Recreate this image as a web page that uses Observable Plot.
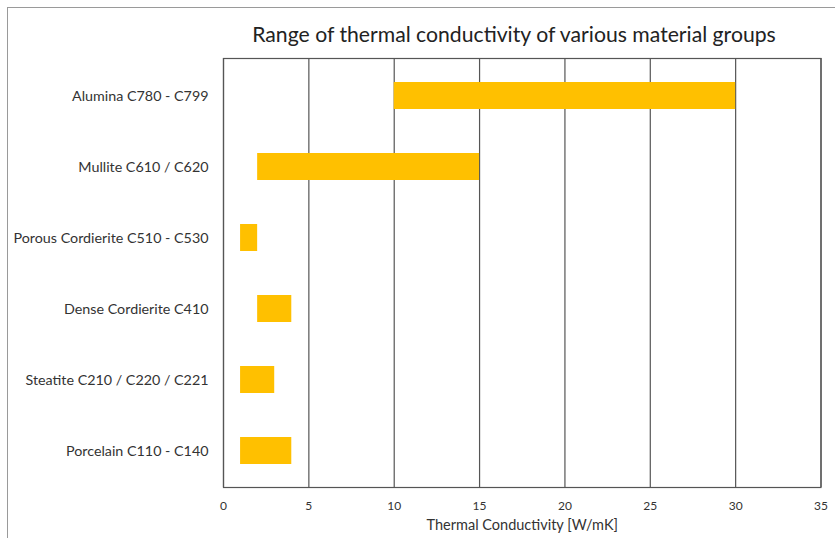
<!DOCTYPE html>
<html>
<head>
<meta charset="utf-8">
<script src="https://cdn.jsdelivr.net/npm/d3@7"></script>
<script src="https://cdn.jsdelivr.net/npm/@observablehq/plot@0.6"></script>
<style>
  html, body { margin: 0; padding: 0; background: #fff; }
  #wrap { position: relative; width: 835px; height: 538px; overflow: hidden; font-family: Lato, "Open Sans", sans-serif; }
  #frame { position: absolute; left: 7px; top: 7px; width: 900px; height: 600px; border-left: 1px solid #9a9a9a; border-top: 1px solid #9a9a9a; }
  #title { position: absolute; left: 214px; width: 600px; top: 21px; text-align: center; font-size: 21.2px; color: #222; }
  #chart { position: absolute; left: 0; top: 40px; }
</style>
</head>
<body>
<div id="wrap">
  <div id="frame"></div>
  <div id="title">Range of thermal conductivity of various material groups</div>
  <div id="chart"></div>
</div>
<script>
const materials = [
  "Alumina C780 - C799",
  "Mullite C610 / C620",
  "Porous Cordierite C510 - C530",
  "Dense Cordierite C410",
  "Steatite C210 / C220 / C221",
  "Porcelain C110 - C140"
];
const minValues = [10, 2, 1, 2, 1, 1];
const maxValues = [30, 15, 2, 4, 3, 4];
const xTicks = [0, 5, 10, 15, 20, 25, 30, 35];

const rows = materials.map((m, i) => ({material: m, min: minValues[i], max: maxValues[i]}));

const chart = Plot.plot({
  width: 835,
  height: 498,
  marginTop: 18,
  marginBottom: 51,
  marginLeft: 223,
  marginRight: 14.5,
  style: {fontFamily: "Lato, 'Open Sans', sans-serif", color: "#333", background: "transparent"},
  x: {domain: [0, 35]},
  y: {domain: materials, paddingInner: 0.62, paddingOuter: 0.31},
  marks: [
    Plot.ruleX(xTicks, {stroke: "#555", strokeWidth: 1.2}),
    Plot.frame({stroke: "#555", strokeWidth: 1.2}),
    Plot.barX(rows, {x1: "min", x2: "max", y: "material", fill: "#FFC000"}),
    Plot.axisY({tickSize: 0, tickPadding: 15, fontSize: 14.3, label: null}),
    Plot.axisX({ticks: xTicks, tickSize: 0, tickPadding: 13.5, fontSize: 12,
      label: "Thermal Conductivity [W/mK]", labelAnchor: "center", labelArrow: "none", labelOffset: 42})
  ]
});
document.getElementById("chart").appendChild(chart);
chart.querySelectorAll("g[aria-label='x-axis label'] text").forEach(t => t.setAttribute("font-size", "14.5"));
</script>
</body>
</html>
